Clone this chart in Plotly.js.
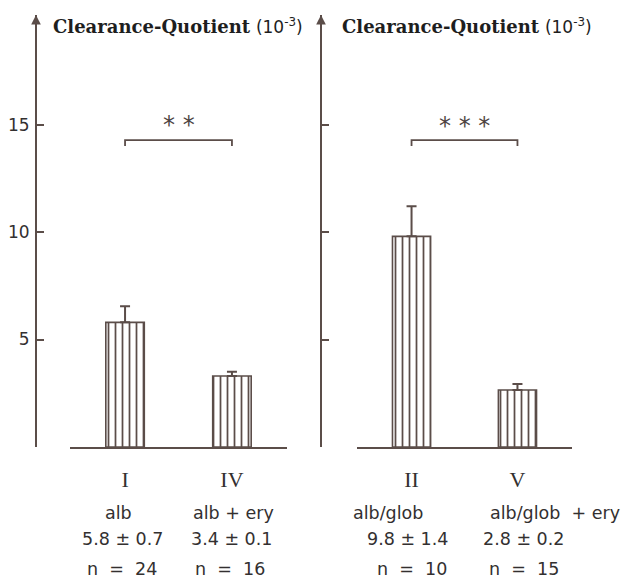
<!DOCTYPE html>
<html><head><meta charset="utf-8">
<script src="https://cdn.plot.ly/plotly-3.0.1.min.js"></script>
<style>html,body{margin:0;padding:0;background:#fff}#chart{width:641px;height:581px}</style>
</head><body><div id="chart"></div>
<script>
// Data
const leftCats = ['I', 'IV'];
const leftVals = [5.8, 3.3];
const leftErr = [0.75, 0.2];
const leftGroups = ['alb', 'alb + ery'];
const leftStats = ['5.8 ± 0.7', '3.4 ± 0.1'];
const leftN = ['n  =  24', 'n  =  16'];
const leftSig = '* *';

const rightCats = ['II', 'V'];
const rightVals = [9.8, 2.65];
const rightErr = [1.4, 0.28];
const rightGroups = ['alb/glob', 'alb/glob  + ery'];
const rightStats = ['9.8 ± 1.4', '2.8 ± 0.2'];
const rightN = ['n  =  10', 'n  =  15'];
const rightSig = '* * *';

const yTicks = [0, 5, 10, 15];
const yTickText = ['', '5', '10', '15'];
const bracketY = [14.0, 14.28];

const ink = '#5b4d49';
const txt = '#333030';
const W = 641;

function barTrace(cats, vals, err, xa, ya) {
  return {
    type: 'bar', x: cats, y: vals, xaxis: xa, yaxis: ya, width: 0.36,
    marker: {color: '#ffffff', line: {color: ink, width: 1.6},
      pattern: {shape: '|', size: 7, solidity: 0.25, fgcolor: ink, bgcolor: '#ffffff'}},
    error_y: {type: 'data', symmetric: false, array: err, arrayminus: [0, 0],
      color: ink, thickness: 2, width: 5},
    hoverinfo: 'skip', showlegend: false
  };
}
function bracket(cats, xa, ya) {
  return {type: 'scatter', mode: 'lines', x: [cats[0], cats[0], cats[1], cats[1]],
    y: [bracketY[0], bracketY[1], bracketY[1], bracketY[0]], xaxis: xa, yaxis: ya,
    line: {color: ink, width: 1.8}, hoverinfo: 'skip', showlegend: false};
}

const traces = [
  barTrace(leftCats, leftVals, leftErr, 'x', 'y'),
  barTrace(rightCats, rightVals, rightErr, 'x2', 'y2'),
  bracket(leftCats, 'x', 'y'),
  bracket(rightCats, 'x2', 'y2')
];

const subFont = {family: 'DejaVu Sans, sans-serif', size: 17.5, color: txt};
const ann = [];
function addLabels(cats, groups, stats, ns, xr, shifts) {
  cats.forEach((c, i) => {
    ann.push({xref: xr, yref: 'paper', x: c, y: -0.153, text: groups[i], showarrow: false,
      font: subFont, xshift: shifts[i][0], yanchor: 'middle'});
    ann.push({xref: xr, yref: 'paper', x: c, y: -0.214, text: stats[i], showarrow: false,
      font: subFont, xshift: shifts[i][1], yanchor: 'middle'});
    ann.push({xref: xr, yref: 'paper', x: c, y: -0.283, text: ns[i], showarrow: false,
      font: subFont, xshift: shifts[i][2], yanchor: 'middle'});
  });
}
addLabels(leftCats, leftGroups, leftStats, leftN, 'x', [[-7, -3, -3], [2, 0, -2]]);
addLabels(rightCats, rightGroups, rightStats, rightN, 'x2', [[-24, -4, 0], [38, 6, 7]]);

ann.push({xref: 'x', yref: 'y', x: 0.5, y: 15.0, text: leftSig, showarrow: false,
  font: {family: 'DejaVu Sans, sans-serif', size: 24, color: '#4e4442'}});
ann.push({xref: 'x2', yref: 'y2', x: 0.5, y: 14.95, text: rightSig, showarrow: false,
  font: {family: 'DejaVu Sans, sans-serif', size: 24, color: '#4e4442'}});

const titleFont = {family: 'DejaVu Serif, serif', size: 18, color: '#1e1e1e'};
const titleText = '<b>Clearance-Quotient</b> <span style="font-family:DejaVu Sans;font-weight:normal;font-size:17px">(10<sup>-3</sup>)</span>';
ann.push({xref: 'paper', yref: 'paper', x: 51 / W, xanchor: 'left', y: 0.975, yanchor: 'middle',
  text: titleText, showarrow: false, font: titleFont});
ann.push({xref: 'paper', yref: 'paper', x: 340 / W, xanchor: 'left', y: 0.975, yanchor: 'middle',
  text: titleText, showarrow: false, font: titleFont});

// arrowheads on top of y axes
[36, 321].forEach(px => ann.push({xref: 'paper', yref: 'paper', x: px / W, y: 1.0, ax: 0, ay: 14,
  text: '', showarrow: true, arrowhead: 2, arrowsize: 1.2, arrowwidth: 1.6, arrowcolor: ink}));

const xCommon = {type: 'category', range: [-0.515, 1.515], showline: true, linecolor: ink, linewidth: 2,
  ticks: 'outside', ticklen: 12, tickcolor: 'rgba(0,0,0,0)', showgrid: false, zeroline: false,
  tickfont: {family: 'Liberation Serif, serif', size: 22, color: txt}};
const yCommon = {range: [0, 20.1], showline: true, linecolor: ink, linewidth: 2, ticks: 'inside', ticklen: 7,
  tickwidth: 2, tickcolor: ink, tickvals: yTicks, showgrid: false, zeroline: false,
  tickfont: {family: 'DejaVu Sans, sans-serif', size: 17, color: txt}, anchor: 'free'};

const layout = {
  width: 641, height: 581, paper_bgcolor: '#fff', plot_bgcolor: 'rgba(0,0,0,0)',
  margin: {l: 0, r: 0, t: 15, b: 133.5}, showlegend: false, bargap: 0,
  xaxis: Object.assign({}, xCommon, {domain: [70 / W, 287 / W], anchor: 'y'}),
  xaxis2: Object.assign({}, xCommon, {domain: [357 / W, 572 / W], anchor: 'y2'}),
  yaxis: Object.assign({}, yCommon, {position: 36 / W, ticktext: yTickText, ticklabelstandoff: 2}),
  yaxis2: Object.assign({}, yCommon, {position: 321 / W, ticktext: ['', '', '', ''], overlaying: 'y'}),
  annotations: ann
};
Plotly.newPlot('chart', traces, layout, {staticPlot: true, displayModeBar: false});
</script></body></html>
